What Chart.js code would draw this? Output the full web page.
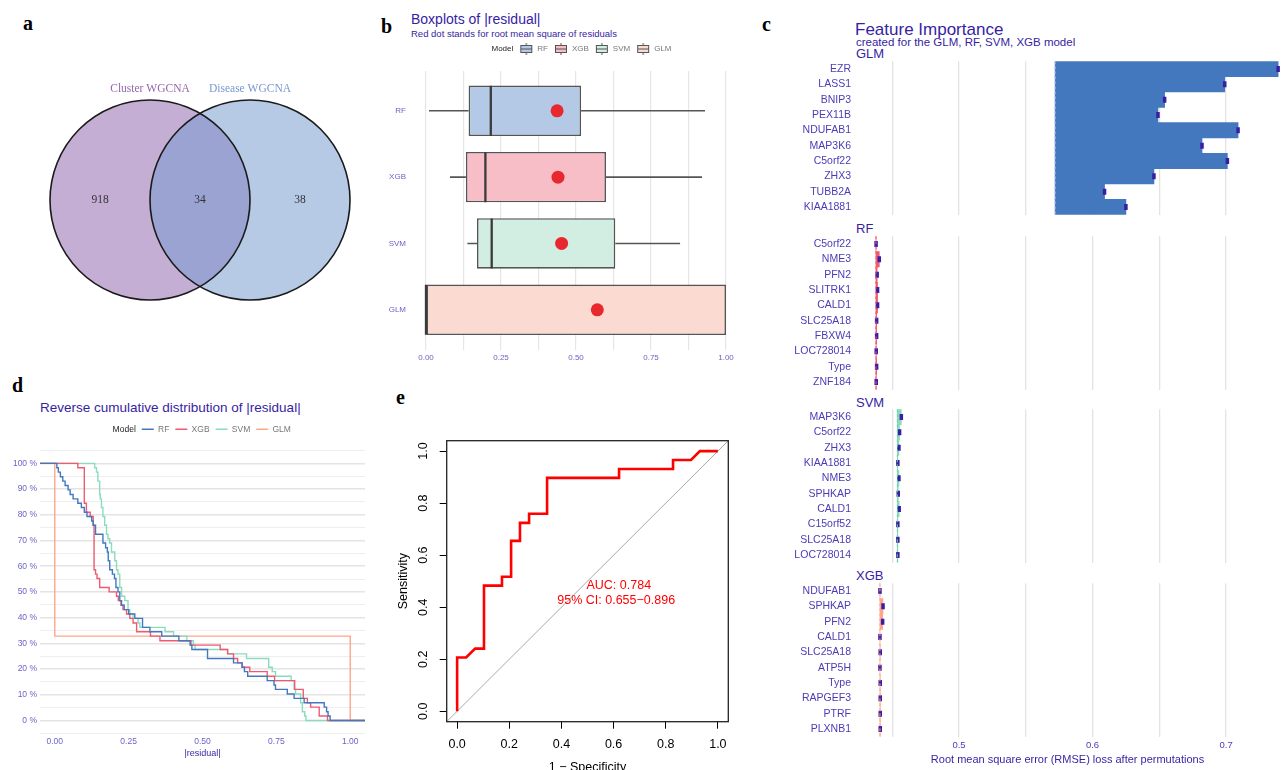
<!DOCTYPE html>
<html>
<head>
<meta charset="utf-8">
<script src="https://cdn.jsdelivr.net/npm/chart.js@4.4.1/dist/chart.umd.min.js"></script>
<style>
  html, body { margin: 0; padding: 0; background: #fff; }
  body { width: 1282px; height: 770px; position: relative; overflow: hidden; font-family: 'Liberation Sans', Arial, sans-serif; }
  canvas { position: absolute; }
  .t { position: absolute; white-space: nowrap; line-height: 1; color: #371ea3; }
  .tag { font-family: 'Liberation Serif', serif; font-weight: bold; font-size: 20px; color: #000; }
</style>
</head>
<body>
<div class="t tag" style="left:23px;top:13px">a</div>
<div class="t tag" style="left:381px;top:16px">b</div>
<div class="t tag" style="left:762px;top:14px">c</div>
<div class="t tag" style="left:12px;top:375px">d</div>
<div class="t tag" style="left:396px;top:387px">e</div>

<div class="t" style="left:411px;top:12px;font-size:14px">Boxplots of |residual|</div>
<div class="t" style="left:411px;top:28.5px;font-size:9.5px">Red dot stands for root mean square of residuals</div>

<div class="t" style="left:855px;top:21px;font-size:17px">Feature Importance</div>
<div class="t" style="left:856px;top:37px;font-size:11.5px">created for the GLM, RF, SVM, XGB model</div>
<div class="t" style="left:856px;top:47.3px;font-size:13px">GLM</div>
<div class="t" style="left:856px;top:221.7px;font-size:13px">RF</div>
<div class="t" style="left:856px;top:395.7px;font-size:13px">SVM</div>
<div class="t" style="left:856px;top:569px;font-size:13px">XGB</div>

<div class="t" style="left:40px;top:400.6px;font-size:13.5px">Reverse cumulative distribution of |residual|</div>

<canvas id="venn" width="400" height="370" style="left:0;top:0"></canvas>
<canvas id="boxes" width="402" height="370" style="left:380px;top:0"></canvas>
<canvas id="impGLM" width="522" height="174" style="left:760px;top:51px"></canvas>
<canvas id="impRF" width="522" height="174" style="left:760px;top:226px"></canvas>
<canvas id="impSVM" width="522" height="174" style="left:760px;top:399px"></canvas>
<canvas id="impXGB" width="522" height="197" style="left:760px;top:573px"></canvas>
<canvas id="cdf" width="455" height="375" style="left:0;top:395px"></canvas>
<canvas id="roc" width="380" height="390" style="left:380px;top:380px"></canvas>

<script>
// ---- a: venn ----
const vennSets = ['Cluster WGCNA', 'Disease WGCNA'];
const vennCounts = [918, 34, 38]; // cluster only, both, disease only

// ---- b: boxplots of |residual| ----
const models = ['RF', 'XGB', 'SVM', 'GLM'];
const boxLow = [0.01, 0.08, 0.138, 0];
const boxQ1 = [0.142, 0.133, 0.17, 0];
const boxMed = [0.216, 0.198, 0.219, 0];
const boxQ3 = [0.517, 0.6, 0.631, 1];
const boxHigh = [0.93, 0.92, 0.847, 1];
const rmse = [0.437, 0.44, 0.452, 0.571];
const boxTicks = [0, 0.125, 0.25, 0.375, 0.5, 0.625, 0.75, 0.875, 1];

// ---- c: feature importance ----
const impTicks = [0.45, 0.5, 0.55, 0.6, 0.65, 0.7];
const glmVars = ['EZR', 'LASS1', 'BNIP3', 'PEX11B', 'NDUFAB1', 'MAP3K6', 'C5orf22', 'ZHX3', 'TUBB2A', 'KIAA1881'];
const glmLoss = [0.739, 0.699, 0.654, 0.649, 0.709, 0.682, 0.701, 0.646, 0.609, 0.625];
const glmFull = 0.572;
const rfVars = ['C5orf22', 'NME3', 'PFN2', 'SLITRK1', 'CALD1', 'SLC25A18', 'FBXW4', 'LOC728014', 'Type', 'ZNF184'];
const rfLoss = [0.4379, 0.4403, 0.4387, 0.439, 0.439, 0.4383, 0.4383, 0.438, 0.4383, 0.438];
const rfFull = 0.4378;
const svmVars = ['MAP3K6', 'C5orf22', 'ZHX3', 'KIAA1881', 'NME3', 'SPHKAP', 'CALD1', 'C15orf52', 'SLC25A18', 'LOC728014'];
const svmLoss = [0.4568, 0.4555, 0.455, 0.4542, 0.455, 0.4545, 0.4552, 0.4542, 0.4542, 0.4542];
const svmFull = 0.4538;
const xgbVars = ['NDUFAB1', 'SPHKAP', 'PFN2', 'CALD1', 'SLC25A18', 'ATP5H', 'Type', 'RAPGEF3', 'PTRF', 'PLXNB1'];
const xgbLoss = [0.4408, 0.4431, 0.4428, 0.4408, 0.441, 0.4408, 0.441, 0.441, 0.441, 0.441];
const xgbFull = 0.4408;

// ---- d: reverse cumulative distribution (step corners) ----
const cdfXTicks = [0, 0.25, 0.5, 0.75, 1];
const cdfYTicks = [-0.05, 0, 0.05, 0.1, 0.15, 0.2, 0.25, 0.3, 0.35, 0.4, 0.45, 0.5, 0.55, 0.6, 0.65, 0.7, 0.75, 0.8, 0.85, 0.9, 0.95, 1, 1.05];
const rfCdfX = [-0.05, 0.007, 0.012, 0.019, 0.027, 0.035, 0.045, 0.052, 0.062, 0.078, 0.09, 0.1, 0.109, 0.125, 0.13, 0.138, 0.163, 0.172, 0.178, 0.181, 0.186, 0.195, 0.202, 0.207, 0.214, 0.22, 0.226, 0.235, 0.25, 0.271, 0.297, 0.322, 0.362, 0.42, 0.458, 0.464, 0.517, 0.605, 0.634, 0.642, 0.653, 0.719, 0.742, 0.747, 0.787, 0.81, 0.844, 0.912, 0.92, 0.925, 0.932, 1.05];
const rfCdfY = [1, 0.983, 0.966, 0.948, 0.931, 0.914, 0.897, 0.879, 0.862, 0.845, 0.828, 0.81, 0.793, 0.776, 0.759, 0.724, 0.69, 0.672, 0.655, 0.621, 0.586, 0.569, 0.552, 0.517, 0.5, 0.466, 0.448, 0.431, 0.414, 0.397, 0.362, 0.345, 0.328, 0.31, 0.293, 0.276, 0.241, 0.224, 0.207, 0.19, 0.172, 0.155, 0.138, 0.121, 0.103, 0.086, 0.069, 0.052, 0.034, 0.017, 0, 0];
const xgbCdfX = [-0.05, 0.078, 0.1, 0.107, 0.12, 0.13, 0.133, 0.138, 0.143, 0.152, 0.184, 0.209, 0.215, 0.224, 0.231, 0.243, 0.254, 0.265, 0.277, 0.324, 0.356, 0.461, 0.56, 0.585, 0.605, 0.619, 0.634, 0.66, 0.719, 0.744, 0.812, 0.841, 0.855, 0.866, 0.895, 0.923, 1.05];
const xgbCdfY = [1, 0.983, 0.845, 0.81, 0.793, 0.759, 0.586, 0.569, 0.552, 0.517, 0.5, 0.483, 0.466, 0.448, 0.431, 0.414, 0.397, 0.379, 0.345, 0.328, 0.31, 0.293, 0.276, 0.259, 0.241, 0.224, 0.207, 0.19, 0.172, 0.155, 0.121, 0.086, 0.069, 0.052, 0.017, 0, 0];
const svmCdfX = [-0.05, 0.135, 0.141, 0.146, 0.152, 0.154, 0.158, 0.163, 0.169, 0.175, 0.18, 0.186, 0.192, 0.203, 0.209, 0.214, 0.22, 0.226, 0.237, 0.248, 0.254, 0.265, 0.282, 0.288, 0.373, 0.402, 0.447, 0.469, 0.475, 0.585, 0.649, 0.724, 0.736, 0.747, 0.8, 0.81, 0.815, 0.832, 0.838, 0.846, 0.85, 1.05];
const svmCdfY = [1, 0.983, 0.966, 0.931, 0.879, 0.862, 0.828, 0.793, 0.759, 0.724, 0.707, 0.69, 0.655, 0.621, 0.586, 0.569, 0.517, 0.483, 0.466, 0.431, 0.414, 0.397, 0.379, 0.362, 0.345, 0.328, 0.31, 0.293, 0.276, 0.259, 0.241, 0.207, 0.19, 0.172, 0.155, 0.121, 0.103, 0.069, 0.034, 0.017, 0, 0];
const glmCdfX = [-0.05, 0, 1, 1.05];
const glmCdfY = [1, 0.328, 0, 0];

// ---- e: ROC ----
const rocTicks = [0, 0.2, 0.4, 0.6, 0.8, 1];
const rocFpr = [0, 0, 0.0345, 0.069, 0.103, 0.103, 0.172, 0.172, 0.207, 0.207, 0.241, 0.241, 0.276, 0.276, 0.345, 0.345, 0.621, 0.621, 0.828, 0.828, 0.897, 0.931, 1];
const rocTpr = [0, 0.207, 0.207, 0.241, 0.241, 0.483, 0.483, 0.517, 0.517, 0.655, 0.655, 0.724, 0.724, 0.759, 0.759, 0.897, 0.897, 0.931, 0.931, 0.966, 0.966, 1, 1];
const aucText = 'AUC: 0.784';
const ciText = '95% CI: 0.655−0.896';

// ---- colours ----
const modelColor = { RF: '#4378bf', XGB: '#f05a71', SVM: '#8bdcbe', GLM: '#ffa58c' };
const boxFill = ['#b4c9e5', '#f8bec7', '#d2eee3', '#fbdad1'];
const tickBlue = '#6c64c5';
const FONT = "'Liberation Sans', Arial, sans-serif";

Chart.defaults.font.family = FONT;
Chart.defaults.animation = false;
Chart.defaults.responsive = false;
Chart.defaults.events = [];
Chart.defaults.layout.autoPadding = false;
Chart.defaults.plugins.tooltip.enabled = false;
Chart.defaults.plugins.legend.display = false;

const setTicks = list => scale => { scale.ticks = list.map(v => ({ value: v })); };
const blankItem = text => ({ text, fillStyle: 'rgba(0,0,0,0)', strokeStyle: 'rgba(0,0,0,0)', lineWidth: 0, pointStyle: 'circle', fontColor: '#222', hidden: false });

// ================= a =================
const vennColors = ['#c5aed3', 'rgba(115,153,207,0.52)'];
const vennLabelColors = ['#9466aa', '#7797d3'];
const circlePts = vennSets.map((s, i) => ({ x: i - 0.5, y: 0 }));
const unitR = c => c.chart.scales.x.getPixelForValue(1) - c.chart.scales.x.getPixelForValue(0);

new Chart('venn', {
  type: 'scatter',
  data: {
    datasets: [
      { data: circlePts, pointRadius: unitR, pointBackgroundColor: 'rgba(0,0,0,0)', pointBorderColor: '#1a1a1a', pointBorderWidth: 1.6 },
      { data: circlePts, pointRadius: unitR, pointBackgroundColor: vennColors, pointBorderWidth: 0 }
    ]
  },
  options: {
    scales: { x: { display: false, min: -2, max: 2 }, y: { display: false, min: -1.7, max: 2 } }
  },
  plugins: [{
    id: 'vennText',
    afterDatasetsDraw(chart) {
      const { ctx, scales: { x, y } } = chart;
      ctx.save();
      ctx.textAlign = 'center';
      ctx.textBaseline = 'middle';
      ctx.font = "11.5px 'Liberation Serif', serif";
      vennSets.forEach((s, i) => {
        ctx.fillStyle = vennLabelColors[i];
        ctx.fillText(s, x.getPixelForValue(i - 0.5), y.getPixelForValue(1.11));
      });
      ctx.fillStyle = '#333';
      vennCounts.forEach((n, i) => ctx.fillText(String(n), x.getPixelForValue(i - 1), y.getPixelForValue(0)));
      ctx.restore();
    }
  }]
});

// ================= b =================
function boxIcon(fill) {
  const c = document.createElement('canvas');
  c.width = 14; c.height = 12;
  const g = c.getContext('2d');
  g.strokeStyle = '#555'; g.lineWidth = 1;
  g.beginPath(); g.moveTo(7, 0); g.lineTo(7, 2.5); g.moveTo(7, 9.5); g.lineTo(7, 12); g.stroke();
  g.fillStyle = fill; g.fillRect(1.5, 2.5, 11, 7); g.strokeRect(1.5, 2.5, 11, 7);
  g.beginPath(); g.moveTo(1.5, 6); g.lineTo(12.5, 6); g.stroke();
  return c;
}
const modelPos = models.map((m, i) => i + 1);

new Chart('boxes', {
  type: 'bar',
  data: {
    datasets: [
      { type: 'line', label: 'RMSE', data: models.map((m, i) => ({ x: rmse[i], y: modelPos[i] })), showLine: false,
        pointRadius: 6.5, pointBackgroundColor: '#e8282e', pointBorderWidth: 0, order: 0 },
      { type: 'line', label: 'median', data: models.map((m, i) => ({ x: boxMed[i], y: modelPos[i] })), showLine: false,
        pointStyle: 'line', pointRotation: 90, pointRadius: 25, pointBorderColor: '#3a3a3a', pointBorderWidth: 2.3, order: 1 },
      { label: 'box', data: models.map((m, i) => ({ x: [boxQ1[i], boxQ3[i]], y: modelPos[i] })), backgroundColor: boxFill,
        borderColor: '#555', borderWidth: 1.6, borderSkipped: false, grouped: false, categoryPercentage: 1, barPercentage: 0.76, order: 2 },
      { label: 'low', data: models.map((m, i) => ({ x: [boxLow[i], boxQ1[i]], y: modelPos[i] })), backgroundColor: '#555',
        grouped: false, maxBarThickness: 1.6, order: 3 },
      { label: 'high', data: models.map((m, i) => ({ x: [boxQ3[i], boxHigh[i]], y: modelPos[i] })), backgroundColor: '#555',
        grouped: false, maxBarThickness: 1.6, order: 3 }
    ]
  },
  options: {
    indexAxis: 'y',
    layout: { padding: { top: 39, right: 41 } },
    plugins: {
      legend: {
        display: true,
        labels: {
          usePointStyle: true, pointStyleWidth: 14, padding: 6, font: { size: 8 },
          generateLabels: () => [blankItem(''), blankItem('Model')].concat(models.map((m, i) => ({
            text: m, pointStyle: boxIcon(boxFill[i]), fillStyle: boxFill[i], strokeStyle: '#555', lineWidth: 0, fontColor: '#777', hidden: false
          })))
        }
      }
    },
    scales: {
      x: {
        type: 'linear', min: -0.05, max: 1.05,
        afterBuildTicks: setTicks(boxTicks),
        afterFit: s => { s.height = 20.4; },
        grid: { color: '#e6e6e6', lineWidth: 1.2, drawTicks: false },
        border: { display: false },
        ticks: { autoSkip: false, maxRotation: 0, padding: 3.5, color: tickBlue, font: { size: 8 },
          callback: v => (Math.round(v * 8) % 2 === 0 ? v.toFixed(2) : '') }
      },
      y: {
        type: 'linear', reverse: true, min: 0.4, max: 4.6, offset: false,
        afterBuildTicks: setTicks(modelPos),
        afterFit: s => { s.width = 31; },
        grid: { display: false, offset: false, drawTicks: false },
        border: { display: false },
        ticks: { padding: 5, color: tickBlue, font: { size: 8 }, callback: v => models[v - 1] }
      },
      gap: {
        type: 'linear', position: 'top', axis: 'x',
        afterFit: s => { s.height = 8; },
        grid: { display: false, drawTicks: false }, border: { display: false }, ticks: { display: false }
      }
    }
  }
});

// ================= c =================
function facet(id, vars, loss, full, color, lineColor, bottom) {
  return new Chart(id, {
    type: 'bar',
    data: {
      labels: vars,
      datasets: [
        { type: 'line', data: vars.map((v, i) => ({ x: loss[i], y: v })), showLine: false,
          pointStyle: 'line', pointRotation: 90, pointRadius: 3, pointBorderColor: '#371ea3', pointBorderWidth: 3.5, order: 0 },
        { data: loss.map(v => [full, v]), backgroundColor: color, borderWidth: 0,
          barPercentage: 1, categoryPercentage: 1, order: 1 }
      ]
    },
    options: {
      indexAxis: 'y',
      layout: { padding: { right: 2 } },
      scales: {
        x: {
          type: 'linear', min: 0.4221, max: 0.7404,
          afterBuildTicks: setTicks(impTicks),
          afterFit: s => { s.height = bottom ? 33.3 : 0; },
          grid: { color: '#e3e3e3', lineWidth: 1.3, drawTicks: false },
          border: { display: false },
          ticks: { display: bottom, autoSkip: false, maxRotation: 0, padding: 3, color: '#4b3cb5', font: { size: 9.5 },
            callback: v => (Math.round(v * 20) % 2 === 0 ? String(+v.toFixed(1)) : '') },
          title: { display: bottom, text: 'Root mean square error (RMSE) loss after permutations', color: '#371ea3',
            font: { size: 11 }, padding: { top: 0, bottom: 3 } }
        },
        y: {
          afterFit: s => { s.width = 95; },
          grid: { display: false, drawTicks: false },
          border: { display: false },
          ticks: { padding: 4, autoSkip: false, color: '#4b3cb5', font: { size: 10.5 } }
        }
      }
    },
    plugins: [{
      id: 'fullModel',
      afterDatasetsDraw(chart) {
        const { ctx, chartArea: a, scales: { x } } = chart;
        const px = x.getPixelForValue(full);
        ctx.save();
        ctx.strokeStyle = lineColor;
        ctx.lineWidth = 1;
        ctx.setLineDash([3, 2]);
        ctx.beginPath(); ctx.moveTo(px, a.top); ctx.lineTo(px, a.bottom); ctx.stroke();
        ctx.restore();
      }
    }]
  });
}
facet('impGLM', glmVars, glmLoss, glmFull, modelColor.RF, '#9fbbe3', false);
facet('impRF', rfVars, rfLoss, rfFull, modelColor.XGB, modelColor.XGB, false);
facet('impSVM', svmVars, svmLoss, svmFull, modelColor.SVM, '#6fcfa9', false);
facet('impXGB', xgbVars, xgbLoss, xgbFull, modelColor.GLM, modelColor.GLM, true);

// ================= d =================
const cdfSeries = [
  { name: 'RF', xs: rfCdfX, ys: rfCdfY },
  { name: 'XGB', xs: xgbCdfX, ys: xgbCdfY },
  { name: 'SVM', xs: svmCdfX, ys: svmCdfY },
  { name: 'GLM', xs: glmCdfX, ys: glmCdfY }
];
const isMajor = v => Math.round(v * 20) % 2 === 0;

new Chart('cdf', {
  type: 'line',
  data: {
    datasets: cdfSeries.map(s => ({
      label: s.name,
      data: s.xs.map((x, i) => ({ x, y: s.ys[i] })),
      borderColor: modelColor[s.name], borderWidth: 1.4, pointRadius: 0, stepped: true, fill: false
    }))
  },
  options: {
    layout: { padding: { top: 24, right: 90 } },
    plugins: {
      legend: {
        display: true,
        labels: {
          usePointStyle: true, pointStyleWidth: 12, padding: 6, font: { size: 8.5 },
          generateLabels: () => [blankItem(''), blankItem('Model')].concat(cdfSeries.map(s => ({
            text: s.name, pointStyle: 'line', fillStyle: modelColor[s.name], strokeStyle: modelColor[s.name], lineWidth: 1.5, fontColor: '#777', hidden: false
          })))
        }
      }
    },
    scales: {
      x: {
        type: 'linear', min: -0.05, max: 1.05,
        afterBuildTicks: setTicks(cdfXTicks),
        afterFit: s => { s.height = 36.7; },
        grid: { display: false, drawTicks: false },
        border: { display: false },
        ticks: { autoSkip: false, maxRotation: 0, padding: 3, color: tickBlue, font: { size: 8.5 }, callback: v => v.toFixed(2) },
        title: { display: true, text: '|residual|', color: '#371ea3', font: { size: 9 }, padding: { top: 0, bottom: 11 } }
      },
      y: {
        type: 'linear', min: -0.05, max: 1.05,
        afterBuildTicks: setTicks(cdfYTicks),
        afterFit: s => { s.width = 40; },
        grid: {
          drawTicks: false,
          color: c => (isMajor(c.tick.value) ? '#e4e4e4' : '#eeeeee'),
          lineWidth: c => (isMajor(c.tick.value) ? 1.5 : 1)
        },
        border: { display: false },
        ticks: { autoSkip: false, padding: 3, color: tickBlue, font: { size: 8.5 },
          callback: v => (isMajor(v) && v > -0.01 && v < 1.01 ? Math.round(v * 100) + ' %' : '') }
      },
      gap: {
        type: 'linear', position: 'top', axis: 'x',
        afterFit: s => { s.height = 7; },
        grid: { display: false, drawTicks: false }, border: { display: false }, ticks: { display: false }
      }
    }
  }
});

// ================= e =================
new Chart('roc', {
  type: 'scatter',
  data: {
    datasets: [
      { data: rocFpr.map((v, i) => ({ x: v, y: rocTpr[i] })), showLine: true, borderColor: '#ff0000', borderWidth: 2.6, pointRadius: 0, tension: 0 },
      { data: [{ x: -0.04, y: -0.04 }, { x: 1.04, y: 1.04 }], showLine: true, borderColor: '#a9a9a9', borderWidth: 1, pointRadius: 0 }
    ]
  },
  options: {
    layout: { padding: { top: 60.7, right: 31.7 } },
    scales: {
      x: {
        type: 'linear', min: -0.04, max: 1.04,
        afterBuildTicks: setTicks(rocTicks),
        afterFit: s => { s.height = 48.3; },
        grid: { drawOnChartArea: false, drawTicks: true, tickLength: 7, color: '#000', lineWidth: 1 },
        border: { display: false },
        ticks: { autoSkip: false, maxRotation: 0, padding: 8, color: '#000', font: { size: 12.5 }, callback: v => v.toFixed(1) },
        title: { display: true, text: '1 − Specificity', color: '#000', font: { size: 12.5 }, padding: { top: 0, bottom: -5 } }
      },
      y: {
        type: 'linear', min: -0.04, max: 1.04,
        afterBuildTicks: setTicks(rocTicks),
        afterFit: s => { s.width = 66.7; },
        grid: { drawOnChartArea: false, drawTicks: true, tickLength: 7, color: '#000', lineWidth: 1 },
        border: { display: false },
        ticks: { display: false },
        title: { display: true, text: 'Sensitivity', color: '#000', font: { size: 12.5 }, padding: { top: 16, bottom: 0 } }
      }
    }
  },
  plugins: [{
    id: 'rocFrame',
    afterDraw(chart) {
      const { ctx, chartArea: a, scales: { x, y } } = chart;
      ctx.save();
      ctx.strokeStyle = '#222';
      ctx.lineWidth = 1.3;
      ctx.strokeRect(a.left, a.top, a.width, a.height);
      ctx.fillStyle = '#000';
      ctx.font = '12.5px ' + FONT;
      ctx.textAlign = 'center';
      ctx.textBaseline = 'middle';
      y.ticks.forEach(t => {
        ctx.save();
        ctx.translate(a.left - 23, y.getPixelForValue(t.value));
        ctx.rotate(-Math.PI / 2);
        ctx.fillText(t.value.toFixed(1), 0, 0);
        ctx.restore();
      });
      ctx.fillStyle = '#ff0000';
      ctx.fillText(aucText, x.getPixelForValue(0.62), y.getPixelForValue(0.483));
      ctx.fillText(ciText, x.getPixelForValue(0.61), y.getPixelForValue(0.427));
      ctx.restore();
    }
  }]
});
</script>
</body>
</html>
